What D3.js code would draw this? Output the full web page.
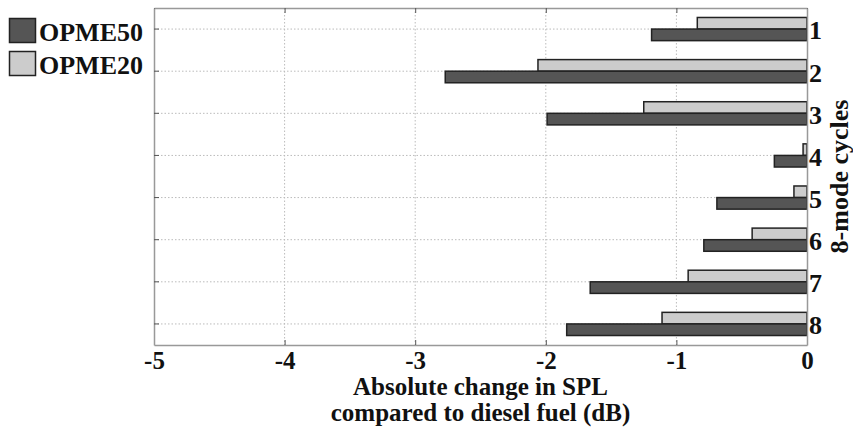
<!DOCTYPE html>
<html>
<head>
<meta charset="utf-8">
<script src="https://cdn.jsdelivr.net/npm/d3@7"></script>
<style>
  body { margin: 0; background: #fff; }
  svg text { font-family: "Liberation Serif", "Times New Roman", serif; font-weight: bold; fill: #111; }
</style>
</head>
<body>
<div id="chart-container"></div>
<script>
let width = 853;
let height = 432;
let margin = ({top: 8, right: 46, bottom: 87, left: 154});
let fontSize = 26;

// data
const cycles = ["1", "2", "3", "4", "5", "6", "7", "8"];
const series = ["OPME20", "OPME50"];
const opme50 = [-1.19, -2.77, -1.99, -0.25, -0.69, -0.79, -1.66, -1.84];
const opme20 = [-0.84, -2.06, -1.25, -0.03, -0.10, -0.42, -0.91, -1.11];
const xTicks = [-5, -4, -3, -2, -1, 0];

const fills = {OPME50: "#555555", OPME20: "#cccccc"};

const chartData = cycles.map((c, i) => ({cycle: c, OPME50: opme50[i], OPME20: opme20[i]}));

const x = d3.scaleLinear()
    .domain([-5, 0])
    .range([margin.left, width - margin.right]);

const y = d3.scaleBand()
    .domain(cycles)
    .range([margin.top, height - margin.bottom]);

const yInner = d3.scaleBand()
    .domain(series)
    .range([y.bandwidth() * 0.225, y.bandwidth() * 0.775]);

const svg = d3.select("#chart-container")
    .append("svg")
    .attr("width", width)
    .attr("height", height);

const plotBottom = height - margin.bottom;
const plotRight = width - margin.right;

// grid
svg.append("g")
    .attr("class", "grid-x")
    .selectAll("line")
    .data(xTicks.slice(1, -1))
    .join("line")
    .attr("x1", d => x(d)).attr("x2", d => x(d))
    .attr("y1", margin.top).attr("y2", plotBottom)
    .attr("stroke", "#bbb")
    .attr("stroke-dasharray", "1.5,2");

svg.append("g")
    .attr("class", "grid-y")
    .selectAll("line")
    .data(cycles)
    .join("line")
    .attr("x1", margin.left).attr("x2", plotRight)
    .attr("y1", d => y(d) + y.bandwidth() / 2).attr("y2", d => y(d) + y.bandwidth() / 2)
    .attr("stroke", "#bbb")
    .attr("stroke-dasharray", "1.5,2");

// bars
const groups = svg.append("g")
    .attr("class", "bars")
    .selectAll("g")
    .data(chartData)
    .join("g")
    .attr("transform", d => `translate(0,${y(d.cycle)})`);

groups.selectAll("rect")
    .data(d => series.map(s => ({key: s, value: d[s]})))
    .join("rect")
    .attr("x", d => x(d.value))
    .attr("width", d => x(0) - x(d.value))
    .attr("y", d => yInner(d.key))
    .attr("height", yInner.bandwidth())
    .attr("fill", d => fills[d.key])
    .attr("stroke", "#222")
    .attr("stroke-width", 1.5);

// axes
const xAxis = g => g
    .attr("transform", `translate(0,${plotBottom})`)
    .call(d3.axisBottom(x).tickValues(xTicks).tickFormat(d => String(d)).tickSizeInner(-5).tickSizeOuter(0))
    .call(g => g.select(".domain").attr("stroke", "#999").attr("stroke-width", 1.5))
    .call(g => g.selectAll(".tick line").attr("stroke", "#555"))
    .call(g => g.selectAll(".tick text")
        .attr("y", 24).attr("dy", 0)
        .attr("font-size", 25));

const xTop = g => g
    .attr("transform", `translate(0,${margin.top})`)
    .call(d3.axisTop(x).tickValues(xTicks).tickSizeInner(-5).tickSizeOuter(0).tickFormat(""))
    .call(g => g.select(".domain").attr("stroke", "#999").attr("stroke-width", 1.5))
    .call(g => g.selectAll(".tick line").attr("stroke", "#555"));

const yLeft = g => g
    .attr("transform", `translate(${margin.left},0)`)
    .call(d3.axisLeft(y).tickSizeInner(-5).tickSizeOuter(0).tickFormat(""))
    .call(g => g.select(".domain").attr("stroke", "#999").attr("stroke-width", 1.5))
    .call(g => g.selectAll(".tick line").attr("stroke", "#555"));

const yRight = g => g
    .attr("transform", `translate(${plotRight},0)`)
    .call(d3.axisRight(y).tickSize(0).tickPadding(2))
    .call(g => g.select(".domain").attr("stroke", "#999").attr("stroke-width", 1.5))
    .call(g => g.selectAll(".tick text")
        .attr("font-size", fontSize)
        .attr("dy", "0.4em"));

svg.append("g").attr("class", "x-axis").call(xAxis);
svg.append("g").attr("class", "x-top").call(xTop);
svg.append("g").attr("class", "y-left").call(yLeft);
svg.append("g").attr("class", "y-right").call(yRight);

// axis titles
const xCenter = (margin.left + plotRight) / 2;
["Absolute change in SPL", "compared to diesel fuel (dB)"].forEach((t, i) => {
    svg.append("text")
        .attr("x", xCenter)
        .attr("y", 395 + i * 26)
        .attr("text-anchor", "middle")
        .attr("font-size", 25)
        .text(t);
});

svg.append("text")
    .attr("transform", `translate(848,${(margin.top + plotBottom) / 2}) rotate(-90)`)
    .attr("text-anchor", "middle")
    .attr("font-size", fontSize)
    .text("8-mode cycles");

// legend
const legendOrder = ["OPME50", "OPME20"];
const legend = svg.append("g").attr("class", "legend");
legendOrder.forEach((s, i) => {
    legend.append("rect")
        .attr("x", 9.5).attr("y", 18.5 + i * 33)
        .attr("width", 26).attr("height", 24)
        .attr("fill", fills[s])
        .attr("stroke", "#222")
        .attr("stroke-width", 1.5);
    legend.append("text")
        .attr("x", 39)
        .attr("y", 41 + i * 33)
        .attr("font-size", fontSize)
        .text(s);
});
</script>
</body>
</html>
